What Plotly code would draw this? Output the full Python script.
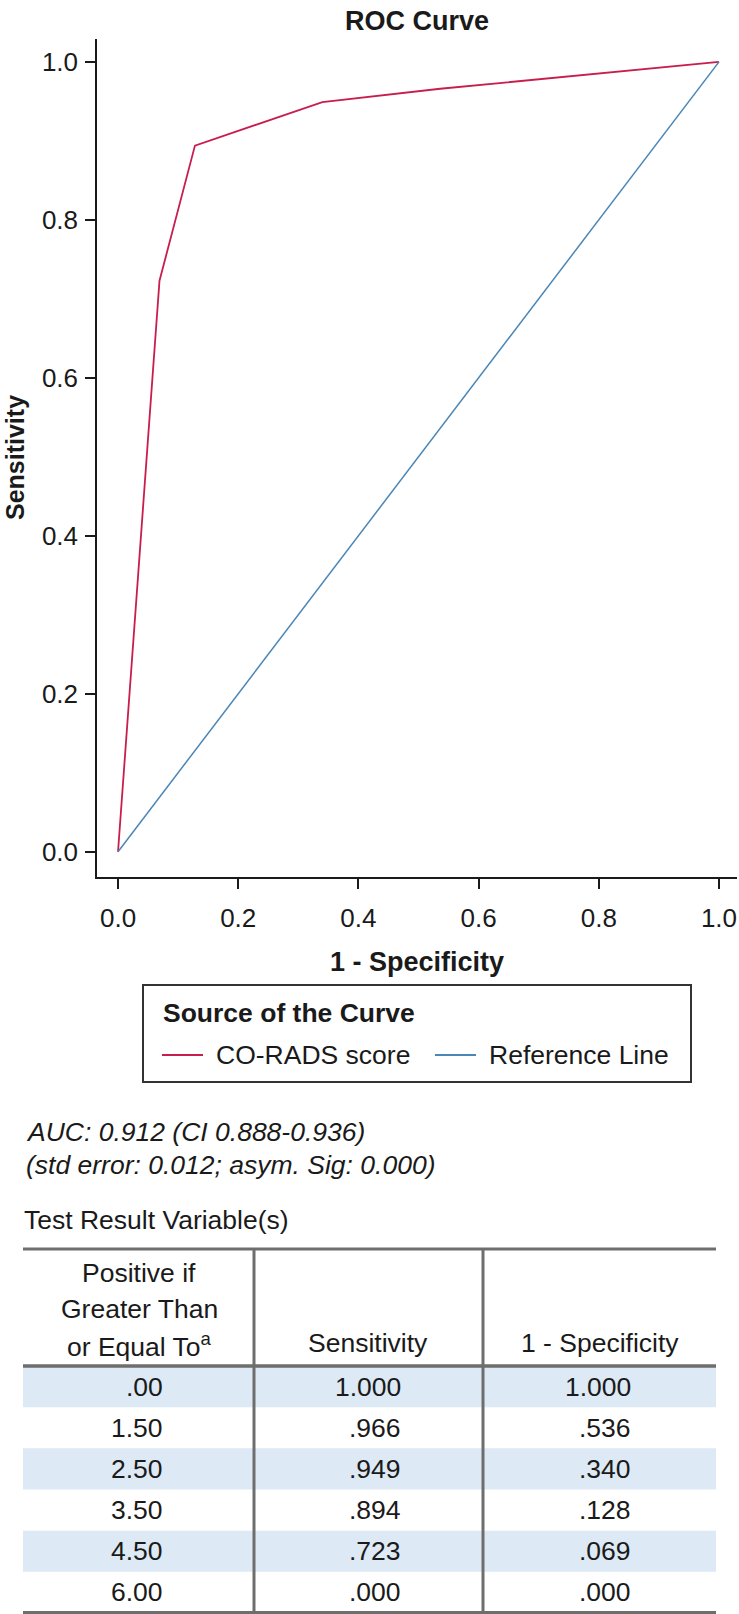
import plotly.graph_objects as go

# ROC coordinates table (SPSS output)
thresholds = [0.00, 1.50, 2.50, 3.50, 4.50, 6.00]
sensitivity = [1.000, 0.966, 0.949, 0.894, 0.723, 0.000]
one_minus_spec = [1.000, 0.536, 0.340, 0.128, 0.069, 0.000]
ref_x = [0, 1]
ref_y = [0, 1]
tick_vals = [0.0, 0.2, 0.4, 0.6, 0.8, 1.0]

series_names = ["CO-RADS score", "Reference Line"]
auc_lines = ["AUC: 0.912 (CI 0.888-0.936)", "(std error: 0.012; asym. Sig: 0.000)"]
header_col1 = ["Positive if", "Greater Than", "or Equal To<sup>a</sup>"]
header_cols = ["Sensitivity", "1 - Specificity"]

W, H = 739, 1614
L, R, T, B = 97, 737, 39, 877  # plot area in px
FONT = "Liberation Sans"
TXT = 26.5
red = "#c81e4e"
blue = "#4a86b6"
grid = "#6e6e6e"
shade = "#dde9f4"
ink = "#1a1a1a"


def px(x):
    return (x - L) / (R - L)


def py(y):
    return (B - y) / (B - T)


def fmt(v, nd):
    s = f"{v:.{nd}f}"
    return s[1:] if s.startswith("0") else s


fig = go.Figure()
fig.add_trace(go.Scatter(x=one_minus_spec, y=sensitivity, mode="lines", name=series_names[0],
                         line=dict(color=red, width=1.8), showlegend=False))
fig.add_trace(go.Scatter(x=ref_x, y=ref_y, mode="lines", name=series_names[1],
                         line=dict(color=blue, width=1.5), showlegend=False))

fig.update_layout(
    width=W, height=H,
    margin=dict(l=L, r=W - R, t=T, b=H - B, autoexpand=False),
    plot_bgcolor="white", paper_bgcolor="white",
    font=dict(family=FONT, size=TXT, color=ink),
    title=dict(text="<b>ROC Curve</b>", x=0.5, xref="paper", xanchor="center",
               y=1 - 21 / H, yref="container", yanchor="middle",
               font=dict(size=27, color=ink)),
)
axis_style = dict(tickvals=tick_vals, tickformat=".1f", tickfont=dict(size=26),
                  showline=True, linecolor=ink, linewidth=1.5,
                  ticks="outside", ticklen=10, tickwidth=1.5, tickcolor=ink,
                  showgrid=False, zeroline=False)
fig.update_xaxes(range=[-0.035, 1.030], ticklabelstandoff=7,
                 title=dict(text="<b>1 - Specificity</b>", standoff=20, font=dict(size=27)),
                 **axis_style)
fig.update_yaxes(range=[-0.032, 1.029], ticklabelstandoff=2, **axis_style)

ann = []
shapes = []
# y axis title
ann.append(dict(text="<b>Sensitivity</b>", x=px(15), y=py(458), xanchor="center", yanchor="middle",
                textangle=-90, font=dict(size=25)))

# legend box
shapes.append(dict(type="rect", x0=px(143), x1=px(691), y0=py(985), y1=py(1082),
                   line=dict(color="#333333", width=2)))
ann.append(dict(text="<b>Source of the Curve</b>", x=px(161), y=py(1013), xanchor="left", yanchor="middle"))
for name, col, lx, tx in zip(series_names, [red, blue], [162, 435], [214, 487]):
    shapes.append(dict(type="line", x0=px(lx), x1=px(lx + 41), y0=py(1055), y1=py(1055),
                       line=dict(color=col, width=2)))
    ann.append(dict(text=name, x=px(tx), y=py(1055), xanchor="left", yanchor="middle"))

# AUC text
for i, t in enumerate(auc_lines):
    ann.append(dict(text=f"<i>{t}</i>", x=px(24), y=py(1132 + 33 * i), xanchor="left", yanchor="middle"))
ann.append(dict(text="Test Result Variable(s)", x=px(22), y=py(1220), xanchor="left", yanchor="middle"))

# table geometry
tx0, tx1 = 23, 716
col_lines = [254, 483]
top, head_bot, bot = 1249, 1366, 1613
row_h = (bot - head_bot) / len(thresholds)
for i in range(len(thresholds)):
    if i % 2 == 0:
        y0 = head_bot + i * row_h
        shapes.append(dict(type="rect", x0=px(tx0), x1=px(tx1), y0=py(y0), y1=py(y0 + row_h),
                           fillcolor=shade, line=dict(width=0), layer="below"))
for y, w in [(top, 3), (head_bot, 3.5), (bot, 4)]:
    shapes.append(dict(type="line", x0=px(tx0), x1=px(tx1), y0=py(y), y1=py(y), line=dict(color=grid, width=w)))
for x in col_lines:
    shapes.append(dict(type="line", x0=px(x), x1=px(x), y0=py(top), y1=py(bot), line=dict(color=grid, width=3)))
for s in shapes:
    s.update(xref="paper", yref="paper")

# header
for i, t in enumerate(header_col1):
    ann.append(dict(text=t, x=px(139), y=py(1273 + 36 * i), xanchor="center", yanchor="middle"))
for t, cx in zip(header_cols, [368, 600]):
    ann.append(dict(text=t, x=px(cx), y=py(1343), xanchor="center", yanchor="middle"))

# body rows
for i in range(len(thresholds)):
    yc = head_bot + (i + 0.5) * row_h
    for v, nd, rx in [(thresholds[i], 2, 165), (sensitivity[i], 3, 403), (one_minus_spec[i], 3, 633)]:
        ann.append(dict(text=fmt(v, nd), x=px(rx), y=py(yc), xanchor="right", yanchor="middle"))

for a in ann:
    a.update(xref="paper", yref="paper", showarrow=False)

fig.update_layout(annotations=ann, shapes=shapes)
fig.write_html("out.html", config={"displayModeBar": False},
               post_script="document.body.style.margin='0';document.body.style.overflow='hidden';")
